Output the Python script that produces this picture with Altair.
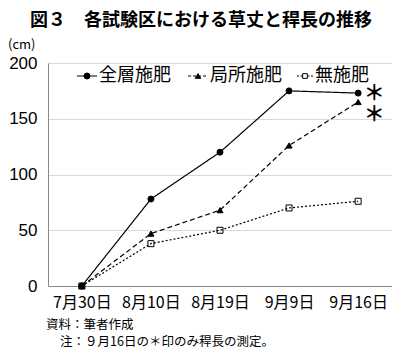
import altair as alt
import pandas as pd

dates = ["7月30日", "8月10日", "8月19日", "9月9日", "9月16日"]
series_names = ["全層施肥", "局所施肥", "無施肥"]
zenso = [0, 78, 120, 175, 173]
kyokusho = [0, 47, 68, 126, 165]
museihi = [0, 38, 50, 70, 76]
asterisk_values = [173, 165]
title_text = "図３　各試験区における草丈と稈長の推移"
unit_text = "(cm)"
source_text = "資料：筆者作成"
note_text = "注：９月16日の＊印のみ稈長の測定。"

rows = []
for name, vals in zip(series_names, [zenso, kyokusho, museihi]):
    for d, v in zip(dates, vals):
        rows.append({"date": d, "series": name, "value": v})
df = pd.DataFrame(rows)

JP = "Noto Sans CJK JP"
W, H = 344, 223

x_enc = alt.X("date:N", sort=dates, scale=alt.Scale(type="point", padding=0.49),
              axis=alt.Axis(title=None, labelAngle=0, ticks=False, grid=False,
                            domainColor="#888888", labelFont=JP, labelFontSize=16,
                            labelColor="black", labelPadding=8))
y_enc = alt.Y("value:Q", scale=alt.Scale(domain=[0, 200], nice=False),
              axis=alt.Axis(title=None, values=[0, 50, 100, 150, 200], ticks=False,
                            grid=True, gridColor="#d9d9d9", domainColor="#888888",
                            labelFont="Liberation Sans", labelFontSize=17,
                            labelColor="black", labelPadding=11))

base = alt.Chart(df)
lines = base.mark_line(color="black", strokeWidth=1.2).encode(
    x=x_enc, y=y_enc,
    strokeDash=alt.StrokeDash("series:N", sort=series_names,
                              scale=alt.Scale(domain=series_names, range=[[1, 0], [5, 3], [2, 2]]),
                              legend=None),
    detail="series:N",
)
points = base.mark_point(filled=False, stroke="black", strokeWidth=1, opacity=1).encode(
    x=alt.X("date:N", sort=dates), y="value:Q",
    shape=alt.Shape("series:N", scale=alt.Scale(domain=series_names,
                                                range=["circle", "triangle-up", "square"]), legend=None),
    fill=alt.Fill("series:N", scale=alt.Scale(domain=series_names,
                                              range=["black", "black", "transparent"]), legend=None),
    size=alt.Size("series:N", scale=alt.Scale(domain=series_names, range=[36, 36, 28]), legend=None),
    order=alt.Order("z:Q"),
).transform_calculate(z="datum.series == '無施肥' ? 2 : 1")

ast_df = pd.DataFrame({"date": [dates[-1]] * 2, "value": asterisk_values, "k": [0, 1]})
ast1 = alt.Chart(ast_df[ast_df.k == 0]).mark_text(text="＊", font=JP, fontSize=21, fontWeight="bold",
                                                  dx=16, dy=1, baseline="middle").encode(
    x=alt.X("date:N", sort=dates), y="value:Q")
ast2 = alt.Chart(ast_df[ast_df.k == 1]).mark_text(text="＊", font=JP, fontSize=21, fontWeight="bold",
                                                  dx=16, dy=13, baseline="middle").encode(
    x=alt.X("date:N", sort=dates), y="value:Q")

one = pd.DataFrame({"a": [0]})


def txt(t, x, y, size, align="left", weight="normal", font=JP):
    return alt.Chart(one).mark_text(text=t, font=font, fontSize=size, align=align,
                                    baseline="middle", fontWeight=weight, color="black").encode(
        x=alt.value(x), y=alt.value(y))


# legend (decoration)
leg_y = 13
legend_layers = []
leg_specs = [
    (series_names[0], 29, 49, [1, 0], "circle", "black", 36),
    (series_names[1], 140, 160, [3, 2], "triangle-up", "black", 30),
    (series_names[2], 249, 265, [2, 1.5], "square", "white", 22),
]
for name, x1, x2, dash, shp, fil, sz in leg_specs:
    legend_layers.append(alt.Chart(one).mark_rule(color="black", strokeWidth=1.2, strokeDash=dash).encode(
        x=alt.value(x1), x2=alt.value(x2), y=alt.value(leg_y)))
    legend_layers.append(alt.Chart(one).mark_point(shape=shp, fill=fil, filled=True, stroke="black",
                                                   strokeWidth=1, size=sz, opacity=1).encode(
        x=alt.value((x1 + x2) / 2), y=alt.value(leg_y)))
    legend_layers.append(txt(name, x2 + 2, leg_y, 18))

texts = [
    txt(title_text, 153, -42, 18, align="center", weight="bold"),
    txt(unit_text, -40, -18, 13),
    txt(source_text, -2, 262, 12.5),
    txt(note_text, 12, 279, 12.5),
]

chart = alt.layer(lines, points, ast1, ast2, *legend_layers, *texts).properties(
    width=W, height=H,
    autosize=alt.AutoSizeParams(type="none"),
    padding={"left": 40, "top": 55, "right": 0, "bottom": 64},
).configure_view(stroke=None).configure(background="white")

chart.save("out.html", embed_options={"renderer": "svg", "actions": False})
